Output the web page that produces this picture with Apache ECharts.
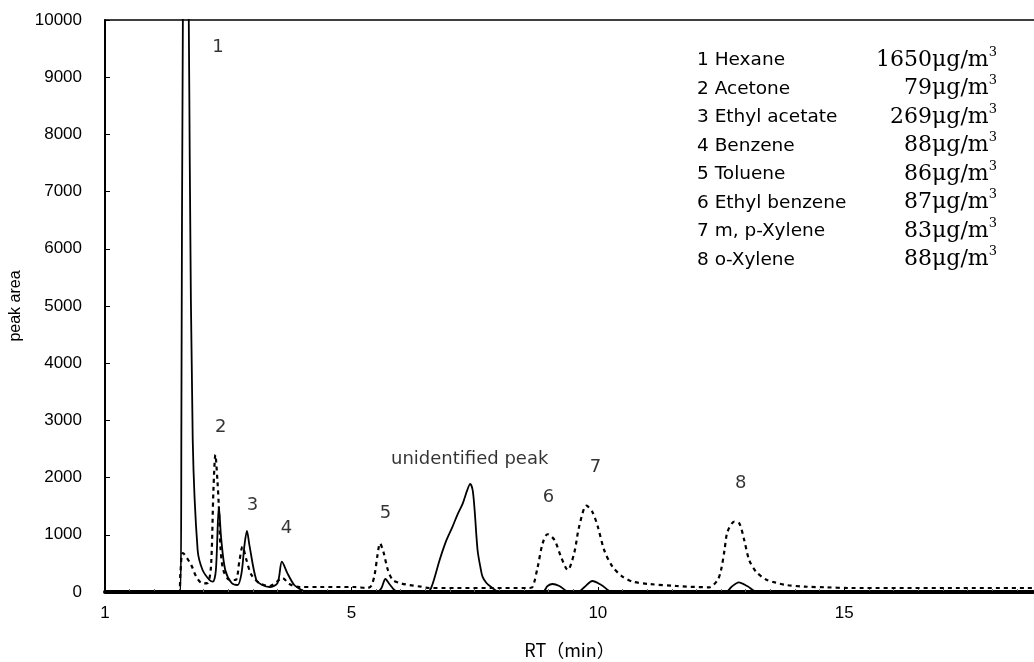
<!DOCTYPE html>
<html>
<head>
<meta charset="utf-8">
<title>chromatogram</title>
<script src="https://cdn.jsdelivr.net/npm/echarts@6/dist/echarts.min.js"></script>
<style>
html,body{margin:0;padding:0;background:#fff;}
#chart{width:1034px;height:662px;}
</style>
</head>
<body>
<div id="chart"></div>
<script>
// solid trace (RT min / peak area)
var solidRT   = [0, 1.53, 1.55, 1.58, 1.64, 1.70, 1.72, 1.78, 1.88, 1.98, 2.12, 2.19, 2.25, 2.31, 2.36, 2.44, 2.57, 2.69, 2.77, 2.83, 2.88, 2.93, 3.07, 3.19, 3.34, 3.50, 3.59, 3.70, 3.84, 3.99, 4.11,
                 5.53, 5.61, 5.69, 5.77, 5.87, 5.95,
                 6.55, 6.64, 6.79, 6.93, 7.05, 7.15, 7.26, 7.35, 7.41, 7.46, 7.50, 7.56, 7.62, 7.66, 7.74, 7.83, 8.00,
                 8.88, 8.98, 9.08, 9.22, 9.42, 9.59, 9.73, 9.89, 10.07, 10.30,
                 12.60, 12.71, 12.86, 13.03, 13.24, 18.85];
var solidArea = [0, 0, 3000, 10000, 13500, 10000, 7500, 2660, 730, 385, 210, 180, 385, 1490, 910, 385, 157, 122, 330, 820, 1070, 820, 210, 122, 87, 157, 530, 330, 122, 35, 0,
                 0, 70, 227, 140, 35, 0,
                 0, 122, 560, 910, 1140, 1350, 1550, 1780, 1890, 1780, 1430, 730, 420, 270, 157, 93, 0,
                 0, 105, 140, 105, 0, 0, 87, 192, 122, 0,
                 0, 87, 170, 105, 0, 0];

// dotted trace
var dotRT   = [0, 1.50, 1.53, 1.58, 1.75, 1.85, 1.98, 2.08, 2.15, 2.20, 2.24, 2.28, 2.31, 2.34, 2.40, 2.53, 2.65, 2.73, 2.79, 2.87, 2.97, 3.13, 3.34, 3.48, 3.60, 3.74, 3.95, 4.35, 5.06,
               5.32, 5.40, 5.47, 5.53, 5.58, 5.65, 5.74, 5.84, 6.01, 6.18, 6.41, 6.58, 8.61,
               8.68, 8.78, 8.88, 8.98, 9.12, 9.25, 9.39, 9.52, 9.62, 9.77, 9.89, 10.00, 10.13, 10.30, 10.50, 10.71, 11.04, 11.59,
               12.26, 12.43, 12.50, 12.57, 12.63, 12.77, 12.87, 12.97, 13.07, 13.21, 13.41, 13.61, 13.82, 14.22, 14.63, 15.10, 18.85];
var dotArea = [0, 0, 330, 680, 470, 270, 150, 157, 440, 1780, 2400, 1960, 1490, 820, 385, 210, 210, 560, 790, 560, 300, 157, 105, 175, 245, 140, 87, 87, 87,
               70, 105, 300, 650, 850, 700, 385, 210, 150, 122, 93, 70, 70,
               93, 440, 850, 1010, 910, 620, 385, 680, 1140, 1510, 1400, 1140, 730, 440, 270, 180, 140, 105,
               82, 210, 385, 730, 1050, 1230, 1200, 910, 560, 355, 220, 163, 122, 93, 82, 70, 70];

// peak numbers written on the plot
var peakLabelRT   = [2.29, 2.35, 2.99, 3.68, 5.69, 7.40, 9.00, 9.95, 12.90];
var peakLabelArea = [9530, 2880, 1510, 1110, 1370, 2320, 1660, 2180, 1900];
var peakLabelText = ['1', '2', '3', '4', '5', 'unidentified peak', '6', '7', '8'];

// compound table
var compounds = ['1 Hexane', '2 Acetone', '3 Ethyl acetate', '4 Benzene', '5 Toluene', '6 Ethyl benzene', '7 m, p\u2010Xylene', '8 o\u2010Xylene'];
var concs     = ['1650', '79', '269', '88', '86', '87', '83', '88'];

var yTicks = [0, 10000, 1000];   // min, max, step
var xTicks = [0, 18.85, 5];

function pairs(a, b){
	var out = [];
	for (var i = 0; i < a.length; i++) out.push([a[i], b[i]]);
	return out;
}

(function(){
var chart = echarts.init(document.getElementById('chart'));

var sansFont = 'Liberation Sans';
var tableText = [];
for (var i = 0; i < compounds.length; i++) {
	tableText.push({
		type: 'text', left: 697, top: 51 + i * 28.5,
		style: {text: compounds[i], fontFamily: 'DejaVu Sans', fontSize: 18.5, fill: '#000'}
	});
	tableText.push({
		type: 'text', right: 37, top: 46 + i * 28.5,
		style: {
			text: '{v|' + concs[i] + '\u03bcg/m}{s|3}',
			rich: {
				v: {fontFamily: 'DejaVu Serif', fontSize: 22, lineHeight: 28, fill: '#000'},
				s: {fontFamily: 'DejaVu Serif', fontSize: 13, verticalAlign: 'top', lineHeight: 14, fill: '#000'}
			}
		}
	});
}

var option = {
	animation: false,
	backgroundColor: '#fff',
	grid: {left: 105, top: 20, right: 0, bottom: 70, outerBoundsMode: 'none'},
	xAxis: [
		{
			type: 'value', min: xTicks[0], max: xTicks[1], interval: xTicks[2],
			name: 'RT\uff08min\uff09', nameLocation: 'middle', nameGap: 49,
			nameTextStyle: {fontFamily: 'Noto Sans CJK JP', fontSize: 18, color: '#000'},
			axisLine: {lineStyle: {color: '#000', width: 4}},
			axisTick: {show: true, inside: true, length: 5, lineStyle: {color: '#000'}},
			minorTick: {show: true, splitNumber: 10, length: 3, lineStyle: {color: '#666'}},
			splitLine: {show: false},
			axisLabel: {
				fontFamily: sansFont, fontSize: 17, color: '#000', margin: 13, showMaxLabel: false,
				formatter: function(v){ return v === 0 ? '1' : String(v); }
			}
		},
		{
			type: 'value', position: 'top', min: xTicks[0], max: xTicks[1],
			axisLine: {show: true, lineStyle: {color: '#000', width: 1.5}},
			axisTick: {show: false}, axisLabel: {show: false}, splitLine: {show: false}
		}
	],
	yAxis: {
		type: 'value', min: yTicks[0], max: yTicks[1], interval: yTicks[2],
		name: 'peak area', nameLocation: 'middle', nameGap: 80, nameRotate: 90,
		nameTextStyle: {fontFamily: sansFont, fontSize: 16, color: '#000'},
		axisLine: {show: true, lineStyle: {color: '#000', width: 2}},
		axisTick: {show: true, inside: true, length: 5, lineStyle: {color: '#000'}},
		splitLine: {show: false},
		axisLabel: {
			fontFamily: sansFont, fontSize: 17, color: '#000', margin: 23,
			formatter: function(v){ return String(v); }
		}
	},
	series: [
		{
			name: 'dotted', type: 'line', symbol: 'none', smooth: 0.3, z: 3,
			lineStyle: {color: '#000', width: 2.2, type: [4, 4]},
			data: pairs(dotRT, dotArea)
		},
		{
			name: 'solid', type: 'line', symbol: 'none', smooth: 0.3, z: 4,
			lineStyle: {color: '#000', width: 1.8},
			data: pairs(solidRT, solidArea)
		},
		{
			name: 'labels', type: 'scatter', symbolSize: 1, silent: true, z: 5,
			itemStyle: {color: 'rgba(0,0,0,0)'},
			label: {
				show: true, position: 'inside', color: '#000',
				fontFamily: 'DejaVu Sans', fontSize: 18,
				formatter: function(p){ return peakLabelText[p.dataIndex]; }
			},
			data: pairs(peakLabelRT, peakLabelArea)
		}
	],
	graphic: tableText
};

chart.setOption(option);
})();
</script>
</body>
</html>
